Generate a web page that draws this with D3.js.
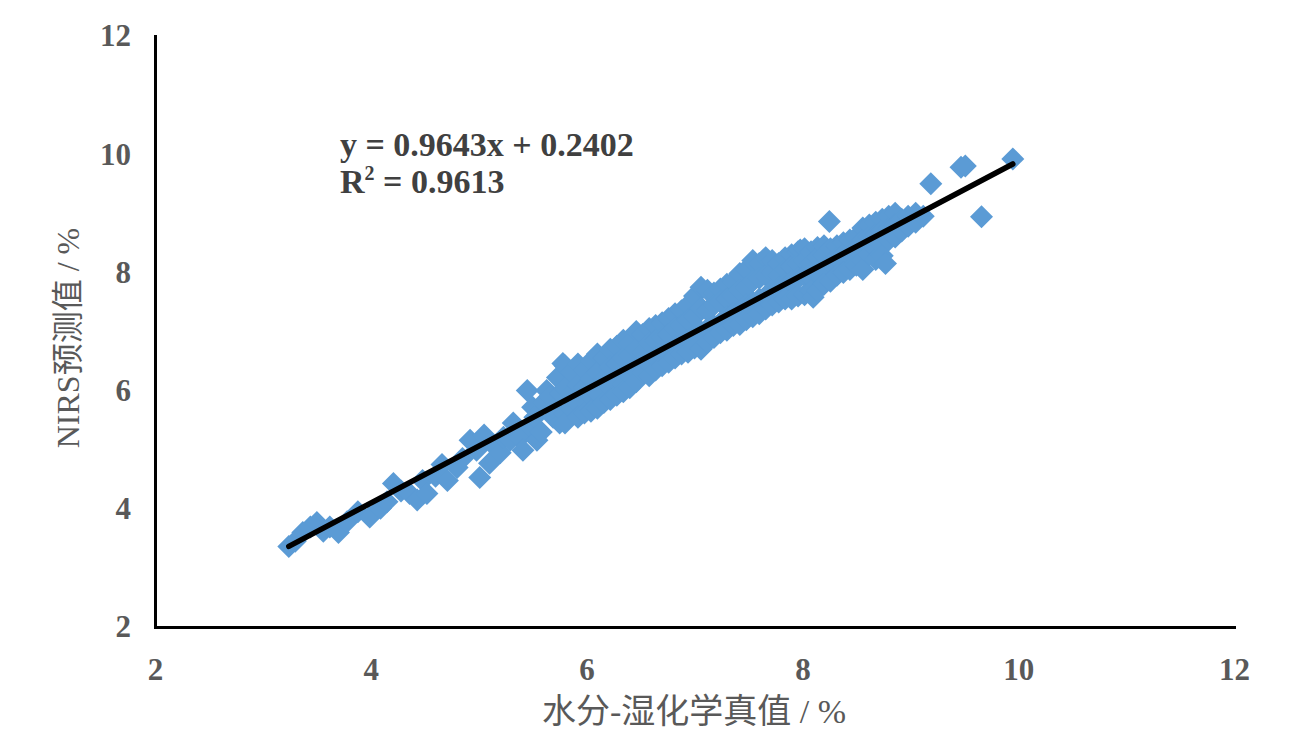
<!DOCTYPE html>
<html><head><meta charset="utf-8">
<script src="https://cdn.jsdelivr.net/npm/d3@7"></script>
<style>body{margin:0;background:#fff}</style>
</head><body><svg id="c" width="1310" height="740"></svg>
<script>
// ---- data ----
const xTicks = [2, 4, 6, 8, 10, 12];
const yTicks = [2, 4, 6, 8, 10, 12];
const slope = 0.9643, intercept = 0.2402, rSquared = "0.9613";
const xTitle = "水分-湿化学真值 / %";
const yTitle = "NIRS预测值 / %";
// [measured moisture, NIRS predicted]
const samples = [
[3.24,3.36],[3.30,3.45],[3.37,3.60],[3.44,3.69],[3.50,3.77],[3.56,3.62],[3.62,3.69],[3.70,3.60],[3.78,3.78],[3.88,3.95],
[3.99,3.86],[4.09,4.01],[4.15,4.12],[4.21,4.43],[4.28,4.30],[4.36,4.26],[4.43,4.15],[4.48,4.48],[4.52,4.26],[4.60,4.55],
[4.66,4.75],[4.71,4.48],[4.80,4.70],[4.85,4.85],[4.92,5.16],[4.98,4.99],[5.01,4.53],[5.05,5.25],[5.10,4.77],[5.15,5.05],
[5.20,4.95],[5.23,5.21],[5.29,5.16],[5.32,5.45],[5.35,5.33],[5.38,5.20],[5.41,4.99],[5.45,6.00],[5.47,5.40],[5.50,5.72],
[5.52,5.55],[5.54,5.16],[5.58,5.30],[5.60,5.80],[5.63,6.00],[5.66,5.90],[5.69,5.55],[5.70,5.70],[5.73,6.22],[5.75,5.45],
[5.76,5.95],[5.78,6.46],
[5.80,6.42],[5.80,6.05],[5.80,5.60],[5.80,5.45],[5.86,6.30],[5.86,5.95],[5.86,5.70],
[5.92,6.45],[5.92,6.10],[5.92,5.78],[5.92,5.55],[5.98,6.35],[5.98,6.05],[5.98,5.62],
[6.04,6.50],[6.04,6.20],[6.04,5.90],[6.04,5.65],[6.10,6.62],[6.10,6.30],[6.10,5.95],[6.10,5.70],
[6.16,6.55],[6.16,6.20],[6.16,5.80],[6.22,6.70],[6.22,6.40],[6.22,6.05],[6.22,5.85],
[6.28,6.75],[6.28,6.45],[6.28,6.15],[6.28,5.92],[6.34,6.85],[6.34,6.55],[6.34,6.10],[6.34,5.98],
[6.40,6.80],[6.40,6.60],[6.40,6.25],[6.40,6.05],[6.46,7.00],[6.46,6.70],[6.46,6.35],[6.46,6.15],
[6.52,6.95],[6.52,6.65],[6.52,6.30],[6.58,7.05],[6.58,6.80],[6.58,6.45],[6.58,6.25],
[6.64,7.10],[6.64,6.85],[6.64,6.55],[6.64,6.35],[6.70,7.15],[6.70,6.90],[6.70,6.60],[6.70,6.42],
[6.76,7.22],[6.76,6.95],[6.76,6.65],[6.76,6.48],[6.82,7.30],[6.82,7.05],[6.82,6.75],[6.82,6.55],
[6.88,7.35],[6.88,7.10],[6.88,6.80],[6.88,6.62],[6.94,7.45],[6.94,7.20],[6.94,6.85],[6.94,6.65],
[7.00,7.60],[7.00,7.25],[7.00,6.95],[7.00,6.72],[7.06,7.75],[7.06,7.40],[7.06,7.00],[7.06,6.70],
[7.12,7.70],[7.12,7.35],[7.12,7.05],[7.12,6.82],[7.18,7.65],[7.18,7.45],[7.18,7.10],[7.18,6.90],
[7.24,7.72],[7.24,7.50],[7.24,7.15],[7.24,6.98],[7.30,7.80],[7.30,7.55],[7.30,7.25],[7.30,7.02],
[7.36,7.85],[7.36,7.60],[7.36,7.30],[7.36,7.10],[7.42,7.98],[7.42,7.70],[7.42,7.35],[7.42,7.12],
[7.48,8.05],[7.48,7.75],[7.48,7.45],[7.48,7.20],[7.54,8.20],[7.54,7.85],[7.54,7.50],[7.54,7.25],
[7.60,8.15],[7.60,7.90],[7.60,7.55],[7.60,7.30],[7.66,8.25],[7.66,7.95],[7.66,7.60],[7.66,7.38],
[7.72,8.20],[7.72,8.00],[7.72,7.70],[7.72,7.45],[7.78,8.15],[7.78,7.95],[7.78,7.75],[7.78,7.50],
[7.84,8.25],[7.84,8.05],[7.84,7.80],[7.84,7.55],[7.90,8.30],[7.90,8.10],[7.90,7.85],[7.90,7.55],
[7.96,8.35],[7.96,8.15],[7.96,7.90],[7.96,7.60],[7.98,8.38],
[8.02,8.40],[8.02,8.20],[8.02,7.95],[8.02,7.62],[8.08,8.35],[8.08,8.15],[8.08,7.90],[8.08,7.68],[8.10,7.58],
[8.14,8.42],[8.14,8.25],[8.14,8.00],[8.14,7.70],[8.20,8.45],[8.20,8.30],[8.20,8.05],[8.20,7.80],
[8.26,8.40],[8.26,8.15],[8.26,7.85],[8.32,8.45],[8.32,8.25],[8.32,7.95],[8.38,8.50],[8.38,8.30],[8.38,8.00],
[8.44,8.55],[8.44,8.35],[8.44,8.05],[8.50,8.60],[8.50,8.40],[8.50,8.12],[8.56,8.75],[8.56,8.55],[8.56,8.20],[8.56,8.05],
[8.62,8.80],[8.62,8.60],[8.62,8.30],[8.68,8.85],[8.68,8.65],[8.68,8.40],[8.68,8.22],[8.74,8.90],[8.74,8.70],[8.74,8.45],[8.74,8.28],
[8.77,8.15],[8.80,8.95],[8.80,8.75],[8.80,8.55],[8.86,9.00],[8.86,8.80],[8.86,8.60],[8.92,8.90],[8.92,8.70],
[8.98,8.95],[8.98,8.78],[9.05,9.00],[9.05,8.85],[9.12,8.95],
[8.25,8.86],[9.19,9.50],[9.47,9.78],[9.51,9.80],[9.66,8.94],[9.95,9.92]
];

// ---- drawing ----
const svg = d3.select("#c");
const x = d3.scaleLinear().domain([2, 12]).range([155, 1234]);
const y = d3.scaleLinear().domain([2, 12]).range([627, 36]);
const serif = "'Liberation Serif','Times New Roman','Noto Sans CJK SC',serif";

// points
const r = 11.5;
svg.append("g").selectAll("path").data(samples).join("path")
  .attr("d", `M0,${-r}L${r},0L0,${r}L${-r},0Z`)
  .attr("transform", d => `translate(${x(d[0])},${y(d[1])})`)
  .attr("fill", "#5B9BD5");

// trendline
const xs = samples.map(d => d[0]);
const x0 = d3.min(xs), x1 = d3.max(xs);
svg.append("line")
  .attr("x1", x(x0)).attr("y1", y(slope * x0 + intercept))
  .attr("x2", x(x1)).attr("y2", y(slope * x1 + intercept))
  .attr("stroke", "#000").attr("stroke-width", 5.5).attr("stroke-linecap", "round");

// axes
const gx = svg.append("g").attr("transform", "translate(0,627)")
  .call(d3.axisBottom(x).tickValues(xTicks).tickSize(0).tickPadding(31).tickFormat(d3.format("d")));
const gy = svg.append("g").attr("transform", "translate(155,0)")
  .call(d3.axisLeft(y).tickValues(yTicks).tickSize(0).tickPadding(24).tickFormat(d3.format("d")));
[gx, gy].forEach(g => {
  g.select(".domain").attr("stroke", "#000").attr("stroke-width", 3).attr("stroke-linecap", "square");
  g.selectAll("text").attr("font-family", serif).attr("font-size", 31).attr("font-weight", "bold").attr("fill", "#595959");
});

// equation
const eq = svg.append("g").attr("font-family", serif).attr("font-weight", "bold").attr("font-size", 34).attr("fill", "#404040");
eq.append("text").attr("x", 340).attr("y", 156).text(`y = ${slope}x + ${intercept}`);
const t2 = eq.append("text").attr("x", 340).attr("y", 193);
t2.append("tspan").text("R");
t2.append("tspan").attr("font-size", 20).attr("dy", -13).text("2");
t2.append("tspan").attr("dy", 13).text(` = ${rSquared}`);

// axis titles
svg.append("text").attr("x", 694).attr("y", 711).attr("text-anchor", "middle").attr("dominant-baseline", "central")
  .attr("font-family", serif).attr("font-size", 34).attr("fill", "#595959").text(xTitle);
svg.append("text").attr("transform", "translate(68,338) rotate(-90)").attr("text-anchor", "middle").attr("dominant-baseline", "central")
  .attr("font-family", serif).attr("font-size", 32).attr("fill", "#595959").text(yTitle);
</script></body></html>
